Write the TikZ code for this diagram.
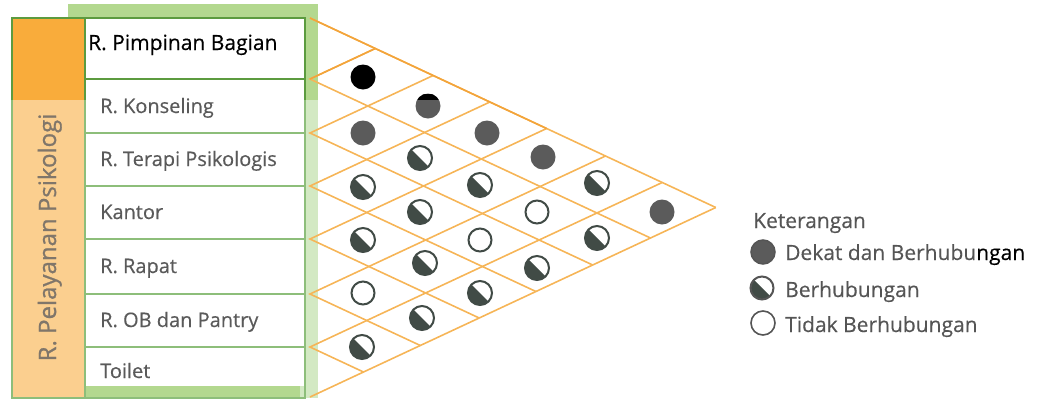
\documentclass[tikz,border=0pt]{standalone}
\usepackage{fontspec}
\setmainfont{Open Sans}
\newfontfamily\roomfont{Open Sans}[FakeBold=0.35]
\newfontfamily\groupfont{Open Sans}[FakeBold=0.9]

\definecolor{orangedark}{HTML}{F9AC3B}
\definecolor{orangelight}{HTML}{FBCF8F}
\definecolor{sheetgreen}{HTML}{B3D88F}
\definecolor{sheetpale}{HTML}{D3E9C3}
\definecolor{darkgreen}{HTML}{5C9B3F}
\definecolor{rowgreen}{HTML}{8DBE7A}
\definecolor{gridorange}{HTML}{F6B557}
\definecolor{gridtop}{HTML}{F3A43A}
\definecolor{dotgray}{HTML}{5B5B5B}
\definecolor{dotdark}{HTML}{414B46}
\definecolor{textgray}{HTML}{5A5A5A}
\definecolor{grouptextgray}{HTML}{80766A}
\definecolor{legendgray}{HTML}{555555}

\tikzset{
  roomtext/.style={anchor=base west, inner sep=0pt, text=textgray, font=\roomfont\fontsize{20}{24}\selectfont},
  grouptext/.style={anchor=base, inner sep=0pt, rotate=90, text=grouptextgray, font=\groupfont\fontsize{24}{28}\selectfont},
  legendtext/.style={anchor=base west, inner sep=0pt, text=legendgray, font=\roomfont\fontsize{21}{25}\selectfont},
  rowline/.style={draw=rowgreen, line width=2pt},
  topline/.style={draw=darkgreen, line width=2.5pt},
  gridline/.style={draw=gridorange, line width=1.6pt},
  fulldot/.style={circle, fill=dotgray, minimum size=25pt, inner sep=0pt},
  halfdot/.style={circle, draw=dotdark, line width=2pt, fill=white, minimum size=24pt, inner sep=0pt,
    path picture={\fill[dotdark] (path picture bounding box.north west) -- (path picture bounding box.south east) -- (path picture bounding box.south west) -- cycle;}},
  opendot/.style={circle, draw=dotdark, line width=2pt, fill=white, minimum size=23pt, inner sep=0pt}
}

\begin{document}
\begin{tikzpicture}[x=1pt,y=-1pt]
  \useasboundingbox (0,0) rectangle (1047,405);

  % sheet and room list
  \fill[sheetpale] (68,4) rectangle (318,398);
  \fill[sheetgreen] (68,4) rectangle (318,100);
  \fill[sheetgreen] (68,380) rectangle (300,398);
  \fill[white] (85,18) rectangle (305,386);
  \fill[orangedark] (12,18) rectangle (85,100);
  \fill[orangelight] (12,100) rectangle (85,398);

  \draw[rowline] (12,100) -- (12,398) -- (305,398) -- (305,100);
  \draw[rowline] (85,100) -- (85,398);
  \draw[rowline] (85,133) -- (305,133);
  \draw[rowline] (85,186) -- (305,186);
  \draw[rowline] (85,239) -- (305,239);
  \draw[rowline] (85,294) -- (305,294);
  \draw[rowline] (85,347) -- (305,347);
  \draw[topline] (12,100) -- (12,18) -- (305,18) -- (305,100);
  \draw[topline] (85,18) -- (85,100);
  \draw[topline] (85,79) -- (305,79);

  \node[roomtext, text=black, font=\roomfont\fontsize{21}{25}\selectfont] (RoomPimpinan) at (88,50) {R. Pimpinan Bagian};
  \node[roomtext] (RoomKonseling) at (100,113) {R. Konseling};
  \node[roomtext] (RoomTerapi) at (100,166) {R. Terapi Psikologis};
  \node[roomtext] (RoomKantor) at (100,219) {Kantor};
  \node[roomtext] (RoomRapat) at (100,273) {R. Rapat};
  \node[roomtext] (RoomPantry) at (100,327) {R. OB dan Pantry};
  \node[roomtext] (RoomToilet) at (100,378) {Toilet};
  \node[grouptext] (GroupPelayanan) at (56,237.5) {R. Pelayanan Psikologi};

  % matrix grid
  \coordinate (LeftZero) at (310,18);
  \coordinate (LeftOne) at (310,79);
  \coordinate (LeftTwo) at (310,133);
  \coordinate (LeftThree) at (310,186);
  \coordinate (LeftFour) at (310,239);
  \coordinate (LeftFive) at (310,294);
  \coordinate (LeftSix) at (310,347);
  \coordinate (LeftSeven) at (310,397);
  \coordinate (Apex) at (715.8,207.5);
  \coordinate (TopOne) at (375.3,48.5);
  \coordinate (TopTwo) at (433.1,75.5);
  \coordinate (TopThree) at (489.9,102);
  \coordinate (TopFour) at (546.6,128.5);
  \coordinate (TopFive) at (605.5,156);
  \coordinate (TopSix) at (662.2,182.5);
  \coordinate (BottomOne) at (650.5,238);
  \coordinate (BottomTwo) at (592.7,265);
  \coordinate (BottomThree) at (535.9,291.5);
  \coordinate (BottomFour) at (479.2,318);
  \coordinate (BottomFive) at (420.3,345.5);
  \coordinate (BottomSix) at (363.5,372);

  \draw[gridline] (Apex) -- (LeftSeven);
  \draw[gridline] (TopTwo) -- (LeftTwo) -- (BottomTwo);
  \draw[gridline] (TopThree) -- (LeftThree) -- (BottomThree);
  \draw[gridline] (TopFour) -- (LeftFour) -- (BottomFour);
  \draw[gridline] (TopFive) -- (LeftFive) -- (BottomFive);
  \draw[gridline] (TopSix) -- (LeftSix) -- (BottomSix);
  \draw[gridline] (TopOne) -- (LeftOne) -- (BottomOne);
  \draw[gridline, draw=gridtop] (TopOne) -- (LeftOne);
  \draw[gridline] (LeftZero) -- (Apex);
  \draw[gridline, draw=gridtop] (LeftZero) -- (TopFour);

  % relations
  \node[fulldot, fill=black] (Dot01) at (363,77) {};
  \node[fulldot, path picture={\fill[black] (path picture bounding box.north west) rectangle ([yshift=-6pt]path picture bounding box.north east);}] (Dot02) at (428,106) {};
  \node[fulldot] (Dot03) at (487,133) {};
  \node[fulldot] (Dot04) at (543,157) {};
  \node[halfdot] (Dot05) at (597,183) {};
  \node[fulldot] (Dot06) at (662,212) {};
  \node[fulldot] (Dot12) at (363,133) {};
  \node[halfdot] (Dot13) at (420,158) {};
  \node[halfdot] (Dot14) at (480,185) {};
  \node[opendot] (Dot15) at (537,212) {};
  \node[halfdot] (Dot16) at (597,238) {};
  \node[halfdot] (Dot23) at (363,187) {};
  \node[halfdot] (Dot24) at (420,212) {};
  \node[opendot] (Dot25) at (480,240) {};
  \node[halfdot] (Dot26) at (537,268) {};
  \node[halfdot] (Dot34) at (363,240) {};
  \node[halfdot] (Dot35) at (425,263) {};
  \node[halfdot] (Dot36) at (480,293) {};
  \node[opendot] (Dot45) at (363,293) {};
  \node[halfdot] (Dot46) at (422,318) {};
  \node[halfdot] (Dot56) at (362,347) {};

  % legend
  \node[legendtext] (Keterangan) at (753,228) {Keterangan};
  \node[fulldot, draw=legendgray, line width=1.5pt, minimum size=24pt] (LegendDekat) at (763,252) {};
  \node[legendtext] (LabelDekat) at (785,260) {Dekat dan Berhubu\textcolor{black}{ngan}};
  \node[halfdot, draw=legendgray, minimum size=23pt] (LegendBerhubungan) at (762,288) {};
  \node[legendtext] (LabelBerhubungan) at (785,297) {Berhubungan};
  \node[opendot, draw=legendgray, line width=1.6pt, minimum size=24pt] (LegendTidak) at (763,323) {};
  \node[legendtext] (LabelTidak) at (785,332) {Tidak Berhubungan};
\end{tikzpicture}
\end{document}
